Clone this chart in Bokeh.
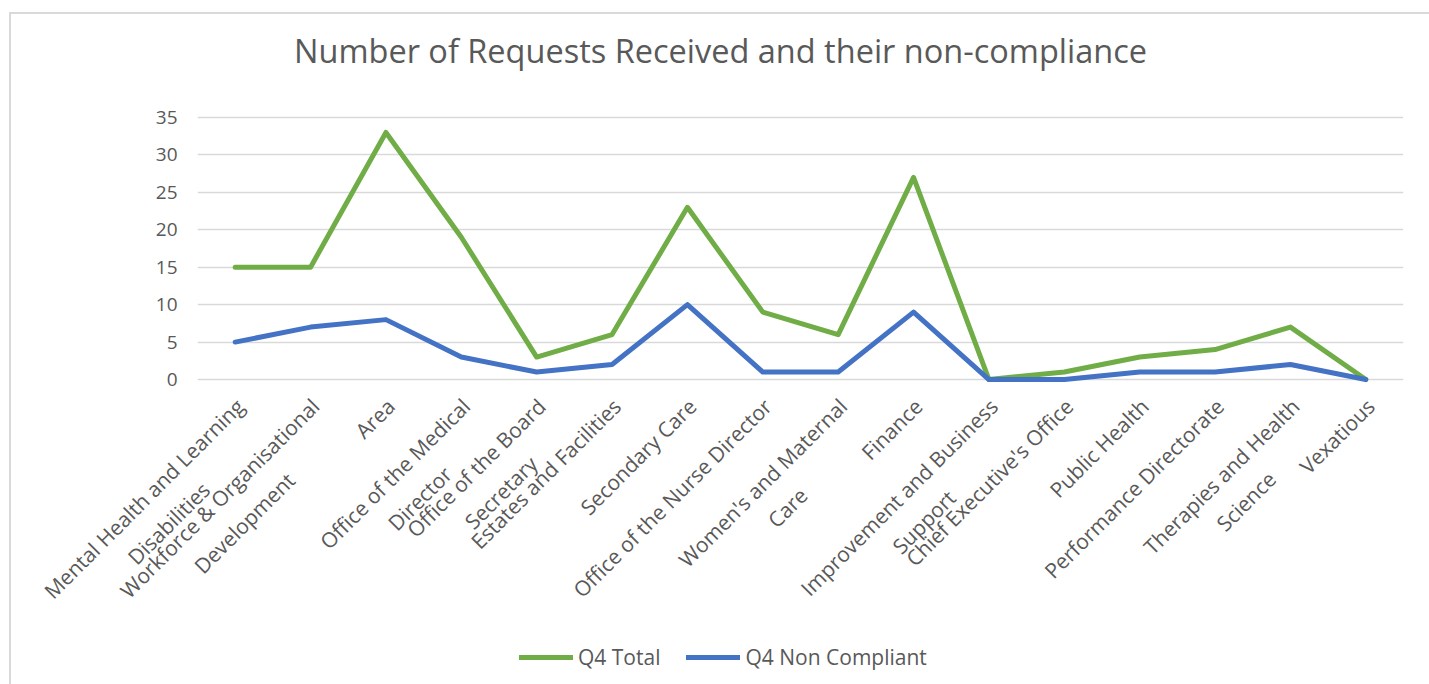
import math
from bokeh.plotting import figure
from bokeh.models import Legend, LegendItem, Range1d, FixedTicker, ColumnDataSource
from bokeh.core.properties import value
from bokeh.embed import file_html
from bokeh.resources import INLINE

title_text = "Number of Requests Received and their non-compliance"
categories = [
    "Mental Health and Learning\nDisabilities",
    "Workforce & Organisational\nDevelopment",
    "Area",
    "Office of the Medical\nDirector",
    "Office of the Board\nSecretary",
    "Estates and Facilities",
    "Secondary Care",
    "Office of the Nurse Director",
    "Women's and Maternal\nCare",
    "Finance",
    "Improvement and Business\nSupport",
    "Chief Executive's Office",
    "Public Health",
    "Performance Directorate",
    "Therapies and Health\nScience",
    "Vexatious",
]
q4_total = [15, 15, 33, 19, 3, 6, 23, 9, 6, 27, 0, 1, 3, 4, 7, 0]
q4_non_compliant = [5, 7, 8, 3, 1, 2, 10, 1, 1, 9, 0, 0, 1, 1, 2, 0]
y_ticks = [0, 5, 10, 15, 20, 25, 30, 35]

FONT = "Open Sans"
TXT = "#595959"

p = figure(
    x_range=categories,
    y_range=Range1d(-40.74, 35.4),
    width=1418, height=670,
    output_backend="svg", toolbar_location=None,
    min_border_left=186, min_border_right=26,
    min_border_top=100, min_border_bottom=0,
)
p.margin = (14, 0, 0, 11)
p.styles = {"outline": "2px solid #D9D9D9"}
p.outline_line_color = None
p.background_fill_color = "white"
p.border_fill_color = "white"

r1 = p.line(categories, q4_total, color="#70AD47", line_width=5,
            line_join="round", line_cap="round")
r2 = p.line(categories, q4_non_compliant, color="#4472C4", line_width=5,
            line_join="round", line_cap="round")

# chart title (drawn as an unclipped overlay text above the frame)
p.text(x=[len(categories) / 2], y=[y_ticks[-1]], text=[title_text],
       x_offset=-80, y_offset=-67, text_align="center", text_baseline="middle",
       text_font=value(FONT), text_font_size="32.5px", text_color=TXT,
       level="overlay")

# category labels (rotated, lines centred as in the original)
label_src = ColumnDataSource(dict(x=categories, y=[y_ticks[0]] * len(categories), t=categories))
p.text(x="x", y="y", text="t", source=label_src, angle=math.pi / 4,
       anchor="top_right", text_align="center", x_offset=-5, y_offset=13,
       text_font=value(FONT), text_font_size="21px", text_color=TXT,
       text_line_height=1.25, level="overlay")

p.xgrid.grid_line_color = None
p.xaxis.visible = False
p.ygrid.grid_line_color = "#D9D9D9"
p.ygrid.grid_line_width = 1.5

p.yaxis.ticker = FixedTicker(ticks=y_ticks)
p.yaxis.axis_line_color = None
p.yaxis.major_tick_line_color = None
p.yaxis.minor_tick_line_color = None
p.yaxis.major_tick_out = 0
p.yaxis.major_label_standoff = 20
p.yaxis.major_label_text_font = FONT
p.yaxis.major_label_text_font_size = "19px"
p.yaxis.major_label_text_color = TXT

legend = Legend(
    items=[LegendItem(label="Q4 Total", renderers=[r1]),
           LegendItem(label="Q4 Non Compliant", renderers=[r2])],
    orientation="horizontal", location=(322, 13),
    glyph_width=54, label_standoff=5, spacing=26,
    padding=0, margin=0, border_line_color=None, background_fill_alpha=0,
    label_text_font=FONT, label_text_font_size="21px", label_text_color=TXT,
)
p.add_layout(legend)

open("out.html", "w").write(file_html(p, INLINE))
